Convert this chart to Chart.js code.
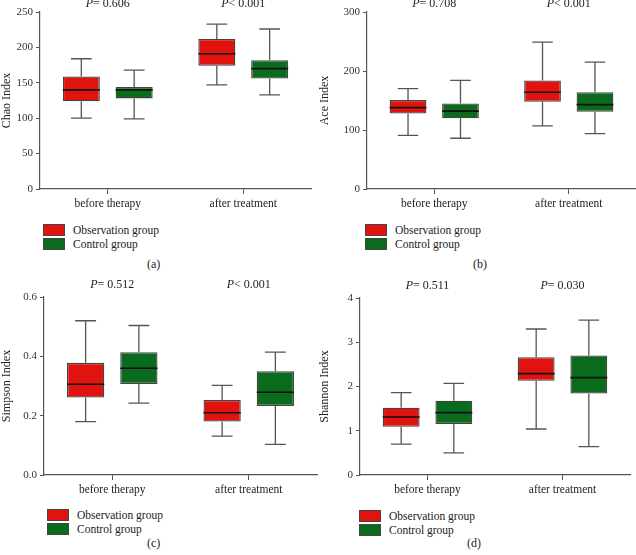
<!DOCTYPE html>
<html>
<head>
<meta charset="utf-8">
<script src="https://cdn.jsdelivr.net/npm/chart.js@4.4.0/dist/chart.umd.min.js"></script>
<style>
  body { margin: 0; background: #fff; }
  #wrap { position: relative; width: 636px; height: 555px; background: #fff; font-family: 'Liberation Serif', 'DejaVu Serif', serif; color: #222; }
  canvas { position: absolute; }
  .lg { position: absolute; font-size: 11.5px; line-height: 14px; }
  .lg .row { height: 14px; display: flex; align-items: center; white-space: nowrap; }
  .lg .sw { width: 20px; height: 10px; border: 1px solid #444; margin-right: 8px; }
  .cap { position: absolute; font-size: 12px; }
</style>
</head>
<body>
<div id="wrap">
  <canvas id="ca"></canvas>
  <canvas id="cb"></canvas>
  <canvas id="cc"></canvas>
  <canvas id="cd"></canvas>
</div>
<script>
const categories = ['before therapy', 'after treatment'];
const groupNames = ['Observation group', 'Control group'];
const groupColors = ['#e0130f', '#0b6b1d'];

// each box: [min, q1, median, q3, max]
const chaoObservation = [[100, 124, 140, 159, 184], [147, 174, 191, 212, 233]];
const chaoControl = [[99, 128, 140, 144, 168], [133, 156, 170, 182, 226]];
const aceObservation = [[91, 128, 138, 151, 170], [107, 148, 164, 184, 249]];
const aceControl = [[86, 120, 132, 145, 184], [94, 131, 143, 164, 215]];
const simpsonObservation = [[0.18, 0.261, 0.306, 0.378, 0.52], [0.131, 0.18, 0.21, 0.253, 0.302]];
const simpsonControl = [[0.242, 0.307, 0.36, 0.414, 0.504], [0.103, 0.233, 0.279, 0.35, 0.414]];
const shannonObservation = [[0.7, 1.09, 1.31, 1.52, 1.86], [1.04, 2.13, 2.29, 2.66, 3.3]];
const shannonControl = [[0.5, 1.15, 1.41, 1.68, 2.07], [0.64, 1.84, 2.2, 2.7, 3.5]];

const pChao = ['= 0.606', '< 0.001'];
const pAce = ['= 0.708', '< 0.001'];
const pSimpson = ['= 0.512', '< 0.001'];
const pShannon = ['= 0.511', '= 0.030'];

const FONT = "'Liberation Serif', 'DejaVu Serif', serif";

// whiskers + median drawn on top of the floating bars
const boxPlugin = {
  id: 'boxParts',
  afterDatasetsDraw(chart) {
    const ctx = chart.ctx;
    const y = chart.scales.y;
    chart.data.datasets.forEach((ds, i) => {
      const meta = chart.getDatasetMeta(i);
      meta.data.forEach((bar, j) => {
        const s = ds.stats[j];
        const half = bar.width / 2;
        const cap = bar.width * 0.28;
        ctx.save();
        ctx.strokeStyle = '#555';
        ctx.lineWidth = 1.3;
        ctx.beginPath();
        ctx.moveTo(bar.x, y.getPixelForValue(s[3]));
        ctx.lineTo(bar.x, y.getPixelForValue(s[4]));
        ctx.moveTo(bar.x - cap, y.getPixelForValue(s[4]));
        ctx.lineTo(bar.x + cap, y.getPixelForValue(s[4]));
        ctx.moveTo(bar.x, y.getPixelForValue(s[1]));
        ctx.lineTo(bar.x, y.getPixelForValue(s[0]));
        ctx.moveTo(bar.x - cap, y.getPixelForValue(s[0]));
        ctx.lineTo(bar.x + cap, y.getPixelForValue(s[0]));
        ctx.stroke();
        ctx.strokeStyle = '#111';
        ctx.lineWidth = 1.6;
        ctx.beginPath();
        ctx.moveTo(bar.x - half, y.getPixelForValue(s[2]));
        ctx.lineTo(bar.x + half, y.getPixelForValue(s[2]));
        ctx.stroke();
        ctx.restore();
      });
    });
  }
};

// P values over each category
const pPlugin = {
  id: 'pLabels',
  afterDraw(chart, args, opts) {
    const ctx = chart.ctx;
    const x = chart.scales.x;
    const yy = chart.chartArea.top - opts.gap;
    opts.values.forEach((txt, i) => {
      ctx.save();
      ctx.fillStyle = '#222';
      ctx.textBaseline = 'alphabetic';
      ctx.font = 'italic 12px ' + FONT;
      const wP = ctx.measureText('P').width;
      ctx.font = '12px ' + FONT;
      const wT = ctx.measureText(txt).width;
      const x0 = x.getPixelForValue(i) - (wP + wT) / 2;
      ctx.font = 'italic 12px ' + FONT;
      ctx.fillText('P', x0, yy);
      ctx.font = '12px ' + FONT;
      ctx.fillText(txt, x0 + wP, yy);
      ctx.restore();
    });
  }
};

function boxChart(id, pos, title, obs, ctrl, pVals, yMax, yStep, decimals) {
  const cv = document.getElementById(id);
  cv.width = pos.w; cv.height = pos.h;
  cv.style.left = pos.x + 'px'; cv.style.top = pos.y + 'px';
  const groups = [obs, ctrl];
  return new Chart(cv, {
    type: 'bar',
    data: {
      labels: categories,
      datasets: groups.map((g, i) => ({
        label: groupNames[i],
        data: g.map(s => [s[1], s[3]]),
        stats: g,
        backgroundColor: groupColors[i],
        borderColor: '#444',
        borderWidth: 1.3,
        borderSkipped: false,
        categoryPercentage: 0.78,
        barPercentage: 0.7
      }))
    },
    options: {
      responsive: false,
      animation: false,
      devicePixelRatio: 1,
      layout: { padding: { top: pos.top, right: pos.w - pos.right, left: 0, bottom: 0 } },
      scales: {
        x: {
          afterFit: s => { s.height = pos.h - pos.bottom; },
          grid: { display: true, drawOnChartArea: false, offset: false, tickLength: 5, color: '#555' },
          border: { color: '#555', width: 1.2 },
          ticks: { color: '#222', padding: 3, font: { family: FONT, size: 11.5 } }
        },
        y: {
          min: 0, max: yMax,
          afterFit: s => { s.width = pos.left; },
          grid: { display: true, drawOnChartArea: false, tickLength: 4, color: '#555' },
          border: { color: '#555', width: 1.2 },
          ticks: {
            stepSize: yStep, color: '#333', padding: 3,
            font: { family: FONT, size: 11 },
            callback: v => v.toFixed(decimals)
          },
          title: { display: true, text: title, color: '#222', padding: { top: 0, bottom: 2 }, font: { family: FONT, size: 12 } }
        }
      },
      plugins: {
        legend: { display: false },
        tooltip: { enabled: false },
        pLabels: { values: pVals, gap: pos.gap }
      }
    },
    plugins: [boxPlugin, pPlugin]
  });
}

boxChart('ca', { x: 0, y: 0, w: 318, h: 215, left: 40, top: 12, right: 311, bottom: 189, gap: 5 },
  'Chao Index', chaoObservation, chaoControl, pChao, 250, 50, 0);
boxChart('cb', { x: 318, y: 0, w: 318, h: 215, left: 49, top: 12, right: 318, bottom: 189, gap: 5 },
  'Ace Index', aceObservation, aceControl, pAce, 300, 100, 0);
boxChart('cc', { x: 0, y: 275, w: 318, h: 230, left: 44, top: 22, right: 317, bottom: 200, gap: 9 },
  'Simpson Index', simpsonObservation, simpsonControl, pSimpson, 0.6, 0.2, 1);
boxChart('cd', { x: 318, y: 275, w: 318, h: 230, left: 42, top: 23, right: 312, bottom: 200, gap: 9 },
  'Shannon Index', shannonObservation, shannonControl, pShannon, 4, 1, 0);

// legends and panel captions
const wrap = document.getElementById('wrap');
function addLegend(x, y) {
  const d = document.createElement('div');
  d.className = 'lg';
  d.style.left = x + 'px'; d.style.top = y + 'px';
  groupNames.forEach((n, i) => {
    const r = document.createElement('div');
    r.className = 'row';
    const sw = document.createElement('span');
    sw.className = 'sw';
    sw.style.background = groupColors[i];
    const t = document.createElement('span');
    t.textContent = n;
    r.appendChild(sw); r.appendChild(t);
    d.appendChild(r);
  });
  wrap.appendChild(d);
}
function addCaption(txt, x, y) {
  const c = document.createElement('div');
  c.className = 'cap';
  c.textContent = txt;
  c.style.left = x + 'px'; c.style.top = y + 'px';
  wrap.appendChild(c);
}
addLegend(43, 223);
addLegend(365, 223);
addLegend(47, 508);
addLegend(359, 509);
addCaption('(a)', 147, 257);
addCaption('(b)', 473, 257);
addCaption('(c)', 147, 536);
addCaption('(d)', 467, 536);
</script>
</body>
</html>
